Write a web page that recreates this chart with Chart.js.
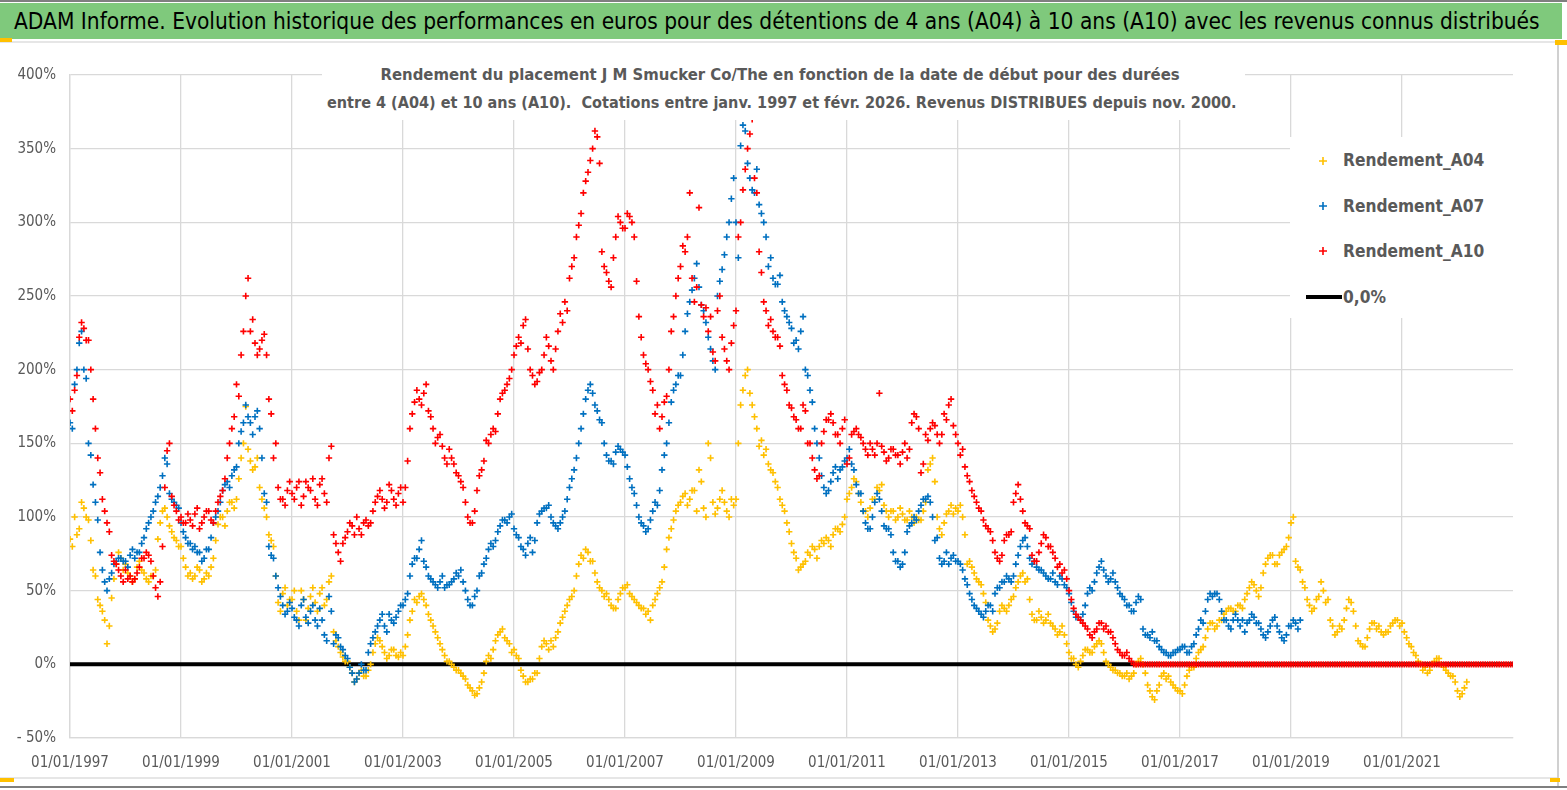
<!DOCTYPE html>
<html>
<head>
<meta charset="utf-8">
<script src="https://cdn.jsdelivr.net/npm/chart.js@4/dist/chart.umd.min.js"></script>
<style>
  body { margin: 0; background: #fff; }
  #page { position: relative; width: 1567px; height: 790px; overflow: hidden; background: #fff; }
  #topline { position: absolute; left: 0; top: 0; width: 1567px; height: 2px; background: #7f7f7f; }
  #banner { position: absolute; left: 0; top: 3px; width: 1562px; height: 36px; background: #7fc97c; }
  #bannerText { position: absolute; left: 14px; top: 3px; line-height: 36px; white-space: nowrap;
    font-family: 'Liberation Sans Narrow', 'DejaVu Sans Condensed', sans-serif; font-size: 24px; color: #000; }
  #underline { position: absolute; left: 0; top: 41px; width: 1557px; height: 2px; background: #e6e6e6; }
  #rightline { position: absolute; left: 1557px; top: 41px; width: 2px; height: 745px; background: #d0d0d0; }
  #bottomline { position: absolute; left: 0; top: 777px; width: 1557px; height: 2px; background: #e6e6e6; }
  #bottomdark { position: absolute; left: 0; top: 786px; width: 1567px; height: 2px; background: #7f7f7f; }
  .tag { position: absolute; background: #ffc000; }
  #chartBox { position: absolute; left: 0; top: 0; width: 1567px; height: 790px; }
  #subBox { position: absolute; left: 322px; top: 57px; width: 923px; height: 63px; background: #fff; }
  .sub { position: absolute; white-space: nowrap; font-family: 'Liberation Sans Narrow', 'DejaVu Sans Condensed', sans-serif;
    font-weight: bold; color: #595959; font-size: 19px; line-height: 24px; }
  #legendBox { position: absolute; left: 1290px; top: 137px; width: 223px; height: 181px; background: #fff; }
  .leg { position: absolute; left: 1343px; white-space: nowrap; font-family: 'Liberation Sans Narrow', 'DejaVu Sans Condensed', sans-serif;
    font-weight: bold; color: #595959; font-size: 20px; line-height: 24px; }
  .mark { position: absolute; }
</style>
</head>
<body>
<div id="page">
  <div id="chartBox"><canvas id="chart-perf"></canvas></div>
  <div id="topline"></div>
  <div id="banner"></div>
  <div id="bannerText">ADAM Informe. Evolution historique des performances en euros pour des détentions de 4 ans (A04) à 10 ans (A10) avec les revenus connus distribués</div>
  <div id="underline"></div>
  <div id="rightline"></div>
  <div id="bottomline"></div>
  <div id="bottomdark"></div>
  <div class="tag" style="left:0;top:38px;width:12px;height:4px"></div>
  <div class="tag" style="left:1555px;top:40px;width:12px;height:5px"></div>
  <div class="tag" style="left:1550px;top:778px;width:10px;height:4px"></div>
  <div class="tag" style="left:0;top:778px;width:14px;height:4px"></div>

  <div id="subBox"></div>
  <div class="sub" id="sub1">Rendement du placement J M Smucker Co/The en fonction de la date de début pour des durées</div>
  <div class="sub" id="sub2">entre 4 (A04) et 10 ans (A10).&nbsp; Cotations entre janv. 1997 et févr. 2026. Revenus DISTRIBUES depuis nov. 2000.</div>

  <div id="legendBox"></div>
  <svg class="mark" style="left:1317px;top:155px" width="12" height="12"><path d="M6 2V10M2 6H10" stroke="#ffc000" stroke-width="1.6"/></svg>
  <svg class="mark" style="left:1317px;top:200px" width="12" height="12"><path d="M6 2V10M2 6H10" stroke="#0070c0" stroke-width="1.6"/></svg>
  <svg class="mark" style="left:1317px;top:245px" width="12" height="12"><path d="M6 2V10M2 6H10" stroke="#ff0000" stroke-width="1.6"/></svg>
  <svg class="mark" style="left:1305px;top:291px" width="38" height="12"><path d="M1 6H37" stroke="#000" stroke-width="4"/></svg>
  <div class="leg" id="leg1">Rendement_A04</div>
  <div class="leg" id="leg2">Rendement_A07</div>
  <div class="leg" id="leg3">Rendement_A10</div>
  <div class="leg" id="leg4">0,0%</div>
</div>
<script>
// two samples per month starting 01/01/1997, values in %
const startYear = 1997;
const stepsPerYear = 24;

const rendementA04 = [
  85, 80, 100, 88, 92, 110, 106, 100, 98, 84, 64, 60, 44, 40, 36, 30, 14, 26, 45, 58, 68, 76, 72, 64,
  68, 62, 60, 56, 58, 66, 70, 64, 62, 58, 56, 60, 60, 64, 85, 96, 104, 106, 100, 94, 90, 86, 84, 80,
  80, 72, 66, 60, 62, 58, 60, 66, 64, 56, 58, 62, 60, 66, 72, 84, 95, 100, 100, 94, 104, 110, 110, 106,
  112, 126, 140, 150, 175, 146, 138, 132, 134, 140, 120, 112, 106, 100, 88, 84, 80, 60, 42, 36, 48, 52, 40, 44,
  44, 50, 36, 30, 50, 44, 30, 38, 46, 52, 42, 36, 48, 52, 40, 44, 56, 60, 22, 16, 12, 8, 5, 2,
  2, -2, -6, -12, -10, -6, -4, -8, -8, -4, 0, 8, 14, 18, 16, 12, 8, 4, 6, 10, 10, 6, 5, 8,
  6, 12, 20, 30, 36, 44, 42, 46, 48, 44, 40, 34, 30, 26, 22, 18, 14, 10, 6, 2, 2, 0, -2, -4,
  -4, -6, -8, -10, -14, -16, -18, -21, -20, -16, -12, -6, 2, 6, 4, 10, 16, 20, 22, 24, 18, 16, 14, 8,
  10, 6, 4, -4, -8, -12, -12, -10, -10, -6, -6, 4, 12, 16, 14, 10, 16, 12, 18, 22, 28, 32, 36, 40,
  44, 46, 50, 60, 68, 74, 72, 78, 76, 70, 70, 62, 56, 52, 50, 46, 48, 44, 40, 38, 38, 44, 48, 52,
  52, 54, 48, 46, 44, 42, 40, 38, 38, 34, 36, 30, 40, 44, 48, 52, 56, 66, 78, 86, 92, 98, 104, 108,
  110, 114, 116, 108, 112, 118, 118, 104, 132, 124, 106, 100, 150, 140, 110, 102, 106, 112, 118, 110, 104, 100, 112, 108,
  112, 150, 176, 186, 196, 200, 184, 176, 168, 160, 148, 152, 142, 146, 136, 132, 130, 124, 120, 112, 108, 104, 96, 90,
  82, 76, 72, 64, 66, 68, 70, 76, 74, 80, 78, 72, 80, 84, 82, 86, 84, 80, 88, 92, 92, 90, 95, 100,
  112, 116, 120, 126, 124, 116, 110, 104, 104, 100, 106, 112, 112, 120, 118, 122, 108, 104, 100, 104, 104, 98, 100, 106,
  102, 98, 98, 104, 100, 96, 100, 98, 98, 104, 110, 132, 136, 140, 124, 100, 92, 88, 96, 102, 104, 108, 102, 106,
  104, 108, 100, 88, 68, 70, 66, 62, 58, 56, 54, 48, 42, 30, 26, 22, 24, 28, 36, 40, 38, 36, 40, 44,
  46, 52, 56, 60, 62, 56, 58, 44, 34, 30, 30, 36, 32, 28, 30, 34, 28, 26, 24, 20, 22, 26, 20, 14,
  8, 4, 4, 0, -2, 2, 6, 10, 10, 8, 8, 12, 14, 16, 14, 8, 2, 0, -2, -4, -4, -6, -6, -8,
  -8, -6, -10, -8, -6, 0, 2, 4, 0, -6, -14, -18, -22, -24, -18, -14, -8, -6, -10, -8, -12, -14, -16, -18,
  -18, -20, -14, -8, -4, -2, -2, 4, 8, 10, 12, 18, 24, 28, 28, 24, 26, 30, 30, 34, 36, 38, 38, 36,
  36, 40, 40, 38, 44, 48, 52, 56, 54, 50, 46, 52, 62, 68, 72, 74, 74, 68, 68, 74, 76, 78, 80, 86,
  96, 100, 70, 66, 64, 56, 52, 44, 40, 36, 38, 44, 46, 56, 50, 42, 44, 30, 26, 20, 22, 26, 24, 30,
  38, 44, 42, 36, 26, 16, 14, 12, 12, 18, 24, 28, 28, 24, 26, 22, 20, 22, 22, 26, 28, 30, 30, 26,
  28, 22, 18, 14, 12, 8, 6, 2, 0, -4, -2, -6, -4, 0, 2, 4, 4, 0, -2, -4, -6, -8, -8, -12,
  -18, -22, -20, -16, -12
];

const rendementA07 = [
  164, 160, 190, 200, 218, 226, 200, 194, 150, 142, 122, 110, 98, 76, 64, 56, 50, 58, 62, 68, 70, 72, 72, 70,
  70, 66, 74, 78, 72, 76, 76, 82, 86, 92, 96, 100, 104, 110, 114, 120, 128, 140, 136, 116, 112, 110, 108, 106,
  96, 90, 86, 82, 82, 78, 80, 76, 76, 70, 72, 78, 78, 86, 96, 100, 104, 110, 118, 122, 124, 120, 128, 132,
  134, 150, 158, 164, 176, 168, 164, 156, 168, 172, 160, 140, 116, 110, 80, 74, 72, 60, 52, 46, 40, 34, 36, 42,
  38, 32, 30, 26, 40, 44, 32, 28, 36, 40, 30, 26, 38, 30, 20, 16, 46, 36, 14, 20, 18, 12, 10, 6,
  4, -2, -6, -12, -10, -6, 0, -4, -4, 8, 14, 18, 22, 26, 30, 34, 26, 22, 34, 30, 28, 32, 36, 40,
  40, 44, 48, 60, 68, 72, 72, 78, 84, 70, 66, 60, 58, 56, 54, 52, 56, 60, 52, 54, 54, 56, 58, 62,
  60, 64, 56, 50, 44, 40, 40, 46, 50, 60, 62, 68, 72, 78, 82, 80, 84, 90, 94, 98, 98, 96, 100, 102,
  92, 88, 86, 80, 78, 74, 82, 86, 76, 84, 96, 102, 104, 106, 106, 108, 100, 96, 94, 92, 96, 100, 104, 112,
  120, 126, 132, 140, 150, 160, 170, 180, 186, 190, 184, 176, 172, 166, 164, 150, 142, 138, 138, 136, 144, 148, 146, 144,
  142, 134, 126, 120, 116, 108, 100, 96, 94, 90, 92, 98, 104, 110, 108, 118, 132, 142, 150, 164, 178, 186, 190, 196,
  196, 210, 226, 238, 246, 254, 262, 272, 256, 244, 240, 232, 222, 214, 206, 200, 250, 260, 268, 278, 290, 300, 316, 330,
  300, 276, 352, 366, 362, 340, 330, 322, 320, 336, 312, 306, 300, 290, 270, 276, 262, 258, 258, 264, 246, 240, 236, 232,
  228, 218, 220, 214, 226, 236, 200, 196, 186, 178, 160, 150, 140, 128, 120, 116, 118, 124, 130, 134, 126, 132, 134, 138,
  140, 146, 136, 132, 122, 116, 116, 104, 96, 92, 92, 100, 110, 116, 112, 104, 94, 92, 92, 88, 76, 70, 70, 66,
  68, 76, 90, 94, 96, 100, 98, 104, 108, 112, 112, 114, 110, 100, 84, 86, 72, 68, 70, 76, 68, 72, 74, 70,
  70, 68, 64, 58, 54, 48, 44, 40, 38, 36, 34, 32, 36, 40, 40, 36, 48, 52, 52, 56, 56, 60, 58, 56,
  60, 68, 74, 80, 84, 86, 80, 72, 68, 70, 66, 64, 64, 62, 60, 58, 58, 62, 56, 54, 60, 58, 54, 52,
  48, 42, 36, 32, 32, 30, 34, 40, 48, 52, 50, 56, 62, 66, 70, 64, 60, 56, 58, 62, 56, 52, 48, 46,
  44, 40, 40, 36, 36, 42, 46, 44, 24, 20, 20, 18, 22, 16, 16, 12, 10, 8, 8, 6, 6, 8, 8, 10,
  10, 12, 12, 8, 8, 12, 14, 20, 24, 30, 28, 36, 44, 48, 46, 48, 48, 44, 36, 30, 30, 26, 24, 30,
  34, 30, 26, 30, 22, 28, 30, 34, 32, 28, 28, 24, 20, 18, 22, 26, 30, 32, 26, 22, 18, 16, 20, 26,
  26, 30, 28, 24, 30
];

const rendementA10 = [
  180, 172, 186, 196, 222, 232, 228, 220, 220, 200, 180, 160, 140, 130, 112, 104, 96, 90, 74, 70, 68, 64, 60, 56,
  64, 58, 60, 56, 58, 62, 66, 72, 72, 76, 74, 70, 60, 52, 46, 56, 80, 120, 145, 150, 114, 108, 104, 98,
  100, 96, 96, 102, 98, 94, 102, 106, 92, 96, 100, 104, 104, 98, 96, 104, 110, 114, 118, 126, 140, 150, 160, 168,
  190, 182, 210, 226, 250, 262, 226, 234, 218, 210, 214, 220, 224, 210, 180, 170, 140, 150, 120, 112, 112, 108, 118, 124,
  116, 112, 120, 124, 108, 114, 124, 120, 118, 126, 112, 108, 122, 126, 116, 110, 140, 148, 88, 82, 76, 70, 82, 86,
  90, 96, 94, 88, 100, 92, 88, 96, 98, 94, 96, 104, 110, 114, 118, 112, 106, 110, 122, 118, 112, 108, 116, 120,
  110, 120, 138, 160, 170, 178, 186, 180, 176, 184, 190, 172, 168, 160, 150, 154, 156, 148, 140, 136, 146, 140, 136, 130,
  128, 124, 120, 110, 100, 96, 96, 104, 118, 128, 132, 138, 152, 150, 156, 160, 158, 170, 180, 184, 186, 190, 194, 200,
  210, 216, 222, 218, 230, 234, 214, 200, 196, 190, 192, 198, 200, 210, 222, 216, 206, 200, 214, 226, 238, 232, 246, 240,
  262, 270, 276, 290, 298, 306, 320, 328, 334, 342, 350, 362, 358, 340, 280, 270, 266, 260, 256, 276, 290, 304, 300, 296,
  296, 306, 304, 300, 290, 260, 236, 222, 210, 204, 200, 192, 186, 170, 176, 160, 168, 178, 182, 200, 226, 236, 250, 262,
  270, 284, 280, 290, 320, 262, 246, 256, 310, 244, 236, 242, 226, 236, 212, 206, 240, 250, 222, 214, 206, 200, 218, 230,
  240, 290, 300, 322, 336, 350, 360, 370, 330, 320, 280, 266, 246, 240, 230, 234, 226, 222, 222, 216, 196, 190, 186, 176,
  174, 168, 166, 160, 160, 176, 172, 150, 150, 140, 132, 126, 128, 150, 158, 166, 166, 170, 164, 156, 156, 150, 160, 166,
  136, 140, 156, 158, 160, 156, 154, 150, 146, 142, 150, 146, 142, 150, 184, 148, 144, 138, 140, 146, 146, 142, 142, 136,
  144, 150, 140, 146, 164, 170, 168, 160, 130, 136, 156, 152, 160, 164, 162, 156, 150, 156, 170, 166, 176, 180, 162, 156,
  150, 142, 146, 134, 128, 124, 118, 114, 110, 106, 104, 98, 94, 92, 90, 84, 76, 72, 70, 74, 84, 88, 88, 90,
  110, 116, 122, 112, 104, 96, 94, 92, 74, 70, 70, 76, 82, 88, 86, 80, 80, 76, 72, 66, 68, 62, 64, 58,
  50, 44, 38, 34, 32, 30, 28, 26, 24, 20, 18, 22, 24, 28, 28, 24, 26, 22, 22, 18, 14, 10, 8, 6,
  6, 8, 4, 2,
  // no full 10-year window after feb. 2016: the sheet plots 0
  0, 0, 0, 0, 0, 0, 0, 0, 0, 0, 0, 0, 0, 0, 0, 0, 0, 0, 0, 0,
  0, 0, 0, 0, 0, 0, 0, 0, 0, 0, 0, 0, 0, 0, 0, 0, 0, 0, 0, 0, 0, 0, 0, 0,
  0, 0, 0, 0, 0, 0, 0, 0, 0, 0, 0, 0, 0, 0, 0, 0, 0, 0, 0, 0, 0, 0, 0, 0,
  0, 0, 0, 0, 0, 0, 0, 0, 0, 0, 0, 0, 0, 0, 0, 0, 0, 0, 0, 0, 0, 0, 0, 0,
  0, 0, 0, 0, 0, 0, 0, 0, 0, 0, 0, 0, 0, 0, 0, 0, 0, 0, 0, 0, 0, 0, 0, 0,
  0, 0, 0, 0, 0, 0, 0, 0, 0, 0, 0, 0, 0, 0, 0, 0, 0, 0, 0, 0, 0, 0, 0, 0,
  0, 0, 0, 0, 0, 0, 0, 0, 0, 0, 0, 0, 0, 0, 0, 0, 0, 0, 0, 0, 0, 0, 0, 0,
  0
];

const zeroLineYears = [1997, 2023];
const zeroLineValues = [0, 0];

const xTicks = [1997, 1999, 2001, 2003, 2005, 2007, 2009, 2011, 2013, 2015, 2017, 2019, 2021];

function toPoints(values) {
  return values.map((v, i) => ({ x: startYear + i / stepsPerYear, y: v }));
}

const font = "'Liberation Sans Narrow', 'DejaVu Sans Condensed', sans-serif";

function crossSet(label, values, color, order) {
  return {
    label: label,
    data: toPoints(values),
    showLine: false,
    pointStyle: 'cross',
    pointRadius: 3.2,
    pointBorderWidth: 1.6,
    borderColor: color,
    backgroundColor: color,
    order: order
  };
}

const config = {
  type: 'scatter',
  data: {
    datasets: [
      crossSet('Rendement_A10', rendementA10, '#ff0000', 1),
      crossSet('Rendement_A07', rendementA07, '#0070c0', 2),
      crossSet('Rendement_A04', rendementA04, '#ffc000', 3),
      {
        label: '0,0%',
        type: 'line',
        data: zeroLineYears.map((x, i) => ({ x: x, y: zeroLineValues[i] })),
        borderColor: '#000',
        borderWidth: 4,
        pointRadius: 0,
        order: 4
      }
    ]
  },
  options: {
    responsive: true,
    maintainAspectRatio: false,
    animation: false,
    events: [],
    layout: { padding: { left: 0, top: 75, right: 54, bottom: 0 } },
    scales: {
      x: {
        type: 'linear',
        min: 1997,
        max: 2023,
        afterBuildTicks: (scale) => { scale.ticks = xTicks.concat([2023]).map(v => ({ value: v })); },
        afterFit: (scale) => { scale.height = 52; },
        ticks: {
          callback: (v) => v <= 2021 ? '01/01/' + v : '',
          color: '#595959',
          font: { family: font, size: 15 },
          padding: 16,
          maxRotation: 0,
          autoSkip: false
        },
        grid: { color: (c) => c.tick && c.tick.value === 2023 ? 'rgba(0,0,0,0)' : '#d9d9d9', lineWidth: 1.3, drawTicks: false },
        border: { color: '#d9d9d9', width: 1.3 }
      },
      y: {
        min: -50,
        max: 400,
        afterFit: (scale) => { scale.width = 70; },
        ticks: {
          stepSize: 50,
          callback: (v) => v < 0 ? '- ' + Math.abs(v) + '%' : v + '%',
          color: '#595959',
          font: { family: font, size: 15 },
          padding: 14
        },
        grid: { color: '#d9d9d9', lineWidth: 1.3, drawTicks: false },
        border: { color: '#d9d9d9', width: 1.3 }
      }
    },
    plugins: {
      legend: { display: false },
      tooltip: { enabled: false }
    }
  }
};

const chartPerf = new Chart(document.getElementById('chart-perf'), config);

// fit the html texts to the widths seen on the sheet
function fitText(id, width, left, centerY, centered) {
  const el = document.getElementById(id);
  const size = parseFloat(getComputedStyle(el).fontSize);
  el.style.fontSize = (size * width / el.scrollWidth) + 'px';
  const w = el.scrollWidth, h = el.offsetHeight;
  el.style.left = (centered ? left - w / 2 : left) + 'px';
  el.style.top = (centerY - h / 2) + 'px';
  return parseFloat(el.style.fontSize);
}
fitText('bannerText', 1526, 14, 21, false);
fitText('sub1', 800, 780, 75, true);
fitText('sub2', 910, 782, 103, true);
const legSize = fitText('leg1', 141, 1343, 160, false);
[['leg2', 206], ['leg3', 251], ['leg4', 297]].forEach(([id, cy]) => {
  const el = document.getElementById(id);
  el.style.fontSize = legSize + 'px';
  el.style.top = (cy - el.offsetHeight / 2) + 'px';
});
</script>
</body>
</html>
